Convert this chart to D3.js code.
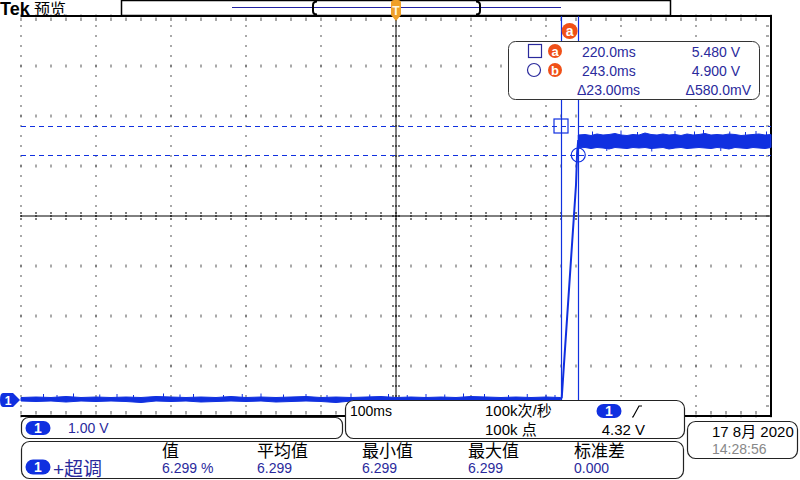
<!DOCTYPE html>
<html><head><meta charset="utf-8">
<script src="https://cdn.jsdelivr.net/npm/d3@7"></script>
<style>
html,body{margin:0;padding:0;background:#fff;}
svg{display:block;font-family:"Liberation Sans","Noto Sans CJK SC",sans-serif;}
</style></head>
<body>
<svg id="c" width="800" height="480"></svg>
<script>
// ---------------- data ----------------
const timeRange = [-500, 500];          // ms, 100 ms/div
const voltRange = [-0.32, 7.68];        // V, 1.00 V/div
const cursorT = [220.0, 243.0];         // ms
const cursorV = [5.480, 4.900];         // V
const cursorLabels = ["a", "b"];
const readTime = ["220.0ms", "243.0ms", "\u039423.00ms"];
const readVolt = ["5.480 V", "4.900 V", "\u0394580.0mV"];
const measHeaders = ["值", "平均值", "最小值", "最大值", "标准差"];
const measValues = ["6.299 %", "6.299", "6.299", "6.299", "0.000"];

// waveform envelope (time ms, min V, max V)
const lowT = [-500,-480,-460,-440,-420,-400,-380,-360,-340,-320,-300,-280,-260,-240,-220,-200,-180,-160,-140,-120,-100,-80,-60,-40,-20,0,20,40,60,80,100,120,140,160,180,200,219];
const lowMin = [-0.02,-0.03,-0.02,-0.04,-0.02,-0.03,-0.02,-0.03,-0.05,-0.02,-0.03,-0.02,-0.04,-0.03,-0.02,-0.03,-0.02,-0.04,-0.03,-0.02,-0.03,-0.05,-0.02,-0.03,-0.02,-0.03,-0.04,-0.02,-0.03,-0.02,-0.03,-0.02,-0.04,-0.03,-0.02,-0.03,-0.02];
const lowMax = [0.05,0.06,0.05,0.07,0.05,0.06,0.05,0.06,0.05,0.07,0.06,0.05,0.06,0.05,0.07,0.05,0.06,0.05,0.06,0.07,0.05,0.06,0.05,0.06,0.07,0.05,0.06,0.05,0.06,0.05,0.07,0.06,0.05,0.06,0.05,0.06,0.05];
const edgeT = [219, 221, 240, 241.5, 243];
const edgeV = [0.02, 0.05, 4.30, 4.95, 5.20];
const highT = [243,252,260,268,276,284,292,300,308,316,324,332,340,348,356,364,372,380,388,396,404,412,420,428,436,444,452,460,468,476,484,492,500];
const highMin = [5.04,5.05,5.03,5.05,5.04,5.02,5.05,5.04,5.03,5.05,5.04,5.05,5.03,5.04,5.05,5.02,5.04,5.05,5.03,5.04,5.05,5.04,5.03,5.05,5.04,5.02,5.05,5.04,5.03,5.05,5.04,5.03,5.05];
const highMax = [5.30,5.31,5.29,5.32,5.30,5.31,5.33,5.30,5.29,5.31,5.30,5.34,5.31,5.30,5.32,5.30,5.31,5.29,5.32,5.30,5.31,5.33,5.30,5.31,5.30,5.32,5.31,5.29,5.30,5.31,5.32,5.30,5.31];
const spikeT = [-470,-452,-430,-395,-372,-350,-310,-288,-270,-230,-205,-180,-150,-120,-92,-60,-35,-10,15,40,65,90,118,150,175,200,212,262,281,300,322,341,372,398,410,433,445,466,480,494];
const spikeV = [0.12,0.10,0.13,0.11,0.12,0.10,0.13,0.11,0.12,0.10,0.12,0.13,0.11,0.12,0.10,0.13,0.11,0.12,0.10,0.12,0.11,0.13,0.12,0.10,0.12,0.11,0.10,5.37,4.98,5.39,5.36,4.97,5.38,5.37,5.40,4.98,5.37,5.36,5.38,5.37];

// ---------------- layout ----------------
const svg = d3.select("#c");
const L = 21, R = 771, T = 16, B = 416;
const x = d3.scaleLinear().domain(timeRange).range([L, R]);
const y = d3.scaleLinear().domain(voltRange).range([B, T]);
const divX = d3.scaleLinear().domain([0, 10]).range([L, R]);
const divY = d3.scaleLinear().domain([0, 8]).range([T, B]);

const BLUE = "#1030e0", TXT = "#2a2a9c", ORANGE = "#f05018", GOLD = "#f0a028", DOT = "#555";

// ---- grid dots ----
const g = svg.append("g");
for (let i = 0; i <= 10; i++) {
  if (i === 5) continue;
  for (let k = 0; k <= 40; k++) {
    g.append("rect").attr("x", divX(i) - 0.5).attr("y", divY(k / 5) - 1).attr("width", 1).attr("height", 2).attr("fill", DOT);
  }
}
for (let j = 0; j <= 8; j++) {
  if (j === 4) continue;
  for (let k = 0; k <= 50; k++) {
    g.append("rect").attr("x", divX(k / 5) - 0.5).attr("y", divY(j) - 1.5).attr("width", 1).attr("height", 3).attr("fill", DOT);
  }
}
// border-edge minor ticks
for (let k = 0; k <= 50; k++) {
  g.append("rect").attr("x", divX(k / 5) - 0.5).attr("y", T + 2).attr("width", 1).attr("height", 3).attr("fill", DOT);
  g.append("rect").attr("x", divX(k / 5) - 0.5).attr("y", B - 5).attr("width", 1).attr("height", 3).attr("fill", DOT);
}
for (let k = 0; k <= 40; k++) {
  g.append("rect").attr("x", R - 5).attr("y", divY(k / 5) - 0.5).attr("width", 3).attr("height", 1).attr("fill", DOT);
}
// center cross
g.append("line").attr("x1", L).attr("x2", R).attr("y1", divY(4)).attr("y2", divY(4)).attr("stroke", "#000");
g.append("line").attr("x1", divX(5)).attr("x2", divX(5)).attr("y1", T).attr("y2", B).attr("stroke", "#000");
for (let k = 0; k <= 50; k++) {
  g.append("line").attr("x1", divX(k / 5)).attr("x2", divX(k / 5)).attr("y1", divY(4) - 4).attr("y2", divY(4) + 4).attr("stroke", "#000").attr("stroke-dasharray", "2,1");
}
for (let k = 0; k <= 40; k++) {
  g.append("line").attr("y1", divY(k / 5)).attr("y2", divY(k / 5)).attr("x1", divX(5) - 4).attr("x2", divX(5) + 4).attr("stroke", "#000").attr("stroke-dasharray", "2,1");
}
// border
svg.append("path").attr("d", `M${L},${T}H${R}V${B}H${L}`).attr("fill", "none").attr("stroke", "#000").attr("stroke-width", 2);

// ---- cursors ----
cursorV.forEach(v => {
  svg.append("line").attr("x1", L).attr("x2", R).attr("y1", Math.round(y(v)) + 0.5).attr("y2", Math.round(y(v)) + 0.5)
    .attr("stroke", BLUE).attr("stroke-dasharray", "5,4");
});
cursorT.forEach(t => {
  svg.append("line").attr("x1", Math.round(x(t)) + 0.5).attr("x2", Math.round(x(t)) + 0.5).attr("y1", T).attr("y2", B)
    .attr("stroke", BLUE).attr("stroke-width", 1.2);
});

// ---- waveform ----
const low = lowT.map((t, i) => [t, lowMin[i], lowMax[i]]);
const high = highT.map((t, i) => [t, highMin[i], highMax[i]]);
const area = d3.area().x(d => x(d[0])).y0(d => y(d[1])).y1(d => y(d[2]));
svg.append("path").attr("d", area(low)).attr("fill", BLUE).attr("stroke", BLUE).attr("stroke-width", 1);
svg.append("path").attr("d", area(high)).attr("fill", BLUE).attr("stroke", BLUE).attr("stroke-width", 1);
const edge = edgeT.map((t, i) => [t, edgeV[i]]);
svg.append("path").attr("d", d3.line().x(d => x(d[0])).y(d => y(d[1]))(edge)).attr("fill", "none").attr("stroke", BLUE).attr("stroke-width", 2);
spikeT.forEach((t, i) => {
  const base = spikeV[i] > 2 ? (spikeV[i] > 5.2 ? 5.3 : 5.04) : 0.04;
  svg.append("line").attr("x1", x(t)).attr("x2", x(t)).attr("y1", y(base)).attr("y2", y(spikeV[i])).attr("stroke", BLUE).attr("stroke-width", 1);
});

// cursor markers
svg.append("rect").attr("x", x(cursorT[0]) - 7).attr("y", y(cursorV[0]) - 7).attr("width", 14).attr("height", 14)
  .attr("fill", "none").attr("stroke", BLUE).attr("stroke-width", 1.2);
svg.append("circle").attr("cx", x(cursorT[1])).attr("cy", y(cursorV[1])).attr("r", 7)
  .attr("fill", "none").attr("stroke", BLUE).attr("stroke-width", 1.2);

// orange "a" above cursors
function badge(cx, cy, r, label, fs) {
  svg.append("circle").attr("cx", cx).attr("cy", cy).attr("r", r).attr("fill", ORANGE);
  svg.append("text").attr("x", cx).attr("y", cy + fs * 0.36).attr("text-anchor", "middle").attr("fill", "#fff")
    .attr("font-weight", "bold").attr("font-size", fs).text(label);
}
badge((x(cursorT[0]) + x(cursorT[1])) / 2, 31, 8, "a", 14);

// ---- cursor readout box ----
svg.append("rect").attr("x", 508.5).attr("y", 41.5).attr("width", 251).attr("height", 58).attr("rx", 7)
  .attr("fill", "#fff").attr("stroke", "#333").attr("stroke-width", 1);
svg.append("rect").attr("x", 528.5).attr("y", 44.5).attr("width", 13).attr("height", 13).attr("fill", "none").attr("stroke", TXT).attr("stroke-width", 1.2);
svg.append("circle").attr("cx", 534).attr("cy", 70).attr("r", 6.5).attr("fill", "none").attr("stroke", TXT).attr("stroke-width", 1.2);
badge(555, 51, 7, cursorLabels[0], 13);
badge(555, 70, 7, cursorLabels[1], 13);
const rowY = [57, 76, 95];
readTime.forEach((s, i) => {
  svg.append("text").attr("x", i < 2 ? 582 : 577).attr("y", rowY[i]).attr("font-size", 14).attr("fill", TXT).text(s);
});
readVolt.forEach((s, i) => {
  svg.append("text").attr("x", i < 2 ? 740 : 751).attr("y", rowY[i]).attr("text-anchor", "end").attr("font-size", 14).attr("fill", TXT).text(s);
});

// ---- top bar ----
svg.append("rect").attr("x", 121.5).attr("y", 0.5).attr("width", 549).attr("height", 15).attr("fill", "#fff").attr("stroke", "#000").attr("stroke-width", 1.5);
svg.append("line").attr("x1", 232).attr("x2", 561).attr("y1", 7.5).attr("y2", 7.5).attr("stroke", "#2020a0").attr("stroke-width", 1);
svg.append("path").attr("d", "M317,1.5 Q313,1.5 313,5 V11 Q313,14.5 317,14.5").attr("fill", "none").attr("stroke", "#000").attr("stroke-width", 2);
svg.append("path").attr("d", "M476,1.5 Q480,1.5 480,5 V11 Q480,14.5 476,14.5").attr("fill", "none").attr("stroke", "#000").attr("stroke-width", 2);
// trigger position marker
const tx = x(0);
svg.append("path").attr("d", `M${tx - 5},3 Q${tx - 5},0 ${tx - 2},0 H${tx + 2} Q${tx + 5},0 ${tx + 5},3 V15 L${tx},21 L${tx - 5},15 Z`).attr("fill", GOLD);
svg.append("text").attr("x", tx).attr("y", 15).attr("text-anchor", "middle").attr("font-size", 12).attr("font-weight", "bold").attr("fill", "#fff8e0").text("T");

// Tek logo
svg.append("text").attr("x", 0).attr("y", 15).attr("font-size", 18).attr("font-weight", "bold").attr("fill", "#000").text("Tek");
svg.append("text").attr("x", 34).attr("y", 15).attr("font-size", 16).attr("fill", "#000").text("预览");

// ground marker
svg.append("path").attr("d", `M3,${y(0) - 7} H13 L20,${y(0)} L13,${y(0) + 7} H3 Q0,${y(0) + 7} 0,${y(0)} Q0,${y(0) - 7} 3,${y(0) - 7} Z`).attr("fill", BLUE);
svg.append("text").attr("x", 8).attr("y", y(0) + 4.5).attr("text-anchor", "middle").attr("font-size", 12).attr("font-weight", "bold").attr("fill", "#fff").text("1");

// ---- bottom panels ----
function pill(cx, cy, w, h) {
  svg.append("rect").attr("x", cx - w / 2).attr("y", cy - h / 2).attr("width", w).attr("height", h).attr("rx", h / 2).attr("fill", BLUE);
  svg.append("text").attr("x", cx).attr("y", cy + 5).attr("text-anchor", "middle").attr("font-size", 14).attr("font-weight", "bold").attr("fill", "#fff").text("1");
}
function box(x0, y0, w, h, r) {
  svg.append("rect").attr("x", x0 + 0.5).attr("y", y0 + 0.5).attr("width", w).attr("height", h).attr("rx", r).attr("fill", "#fff").attr("stroke", "#222").attr("stroke-width", 1.2);
}
// channel scale box
box(21, 417, 321, 21, 7);
pill(38, 428, 25, 14);
svg.append("text").attr("x", 68).attr("y", 433).attr("font-size", 14).attr("fill", TXT).text("1.00 V");
// timebase box
box(345, 400, 339, 38, 8);
svg.append("text").attr("x", 350).attr("y", 416).attr("font-size", 14).attr("fill", "#000").text("100ms");
svg.append("text").attr("x", 485).attr("y", 416).attr("font-size", 15).attr("fill", "#000").text("100k次/秒");
svg.append("text").attr("x", 485).attr("y", 435).attr("font-size", 15).attr("fill", "#000").text("100k 点");
pill(609, 411, 25, 14);
svg.append("path").attr("d", "M632,417 L633,417 L639,406 L642,406").attr("fill", "none").attr("stroke", "#000").attr("stroke-width", 1.2);
svg.append("text").attr("x", 645).attr("y", 435).attr("text-anchor", "end").attr("font-size", 15).attr("fill", "#000").text("4.32 V");
// date box
box(687, 421, 110, 37, 8);
svg.append("text").attr("x", 712).attr("y", 437).attr("font-size", 15).attr("fill", "#000").text("17 8月 2020");
svg.append("text").attr("x", 712).attr("y", 454).attr("font-size", 14).attr("fill", "#888").text("14:28:56");
// measurement box
box(21, 441, 662, 37, 8);
pill(38, 467, 25, 15);
svg.append("text").attr("x", 53).attr("y", 476).attr("font-size", 19).attr("fill", TXT).text("+超调");
const colX = [162, 257, 362, 468, 574];
measHeaders.forEach((s, i) => {
  svg.append("text").attr("x", colX[i]).attr("y", 457).attr("font-size", 17).attr("fill", "#000").text(s);
});
measValues.forEach((s, i) => {
  svg.append("text").attr("x", colX[i]).attr("y", 473).attr("font-size", 14).attr("fill", TXT).text(s);
});
</script>
</body></html>
